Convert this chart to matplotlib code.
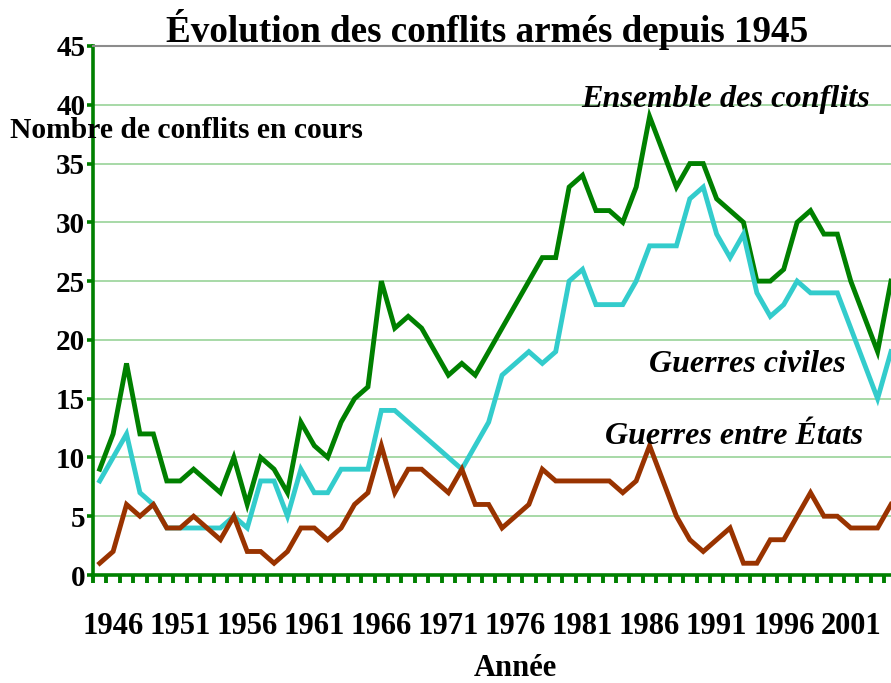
import matplotlib
matplotlib.use("Agg")
import matplotlib.pyplot as plt
from matplotlib.ticker import FixedLocator

years = list(range(1945, 2005))
ensemble = [9, 12, 18, 12, 12, 8, 8, 9, 8, 7, 10, 6, 10, 9, 7, 13, 11, 10, 13, 15,
            16, 25, 21, 22, 21, 19, 17, 18, 17, 19, 21, 23, 25, 27, 27, 33, 34, 31, 31, 30,
            33, 39, 36, 33, 35, 35, 32, 31, 30, 25, 25, 26, 30, 31, 29, 29, 25, 22, 19, 25]
civiles = [8, 10, 12, 7, 6, 4, 4, 4, 4, 4, 5, 4, 8, 8, 5, 9, 7, 7, 9, 9,
           9, 14, 14, 13, 12, 11, 10, 9, 11, 13, 17, 18, 19, 18, 19, 25, 26, 23, 23, 23,
           25, 28, 28, 28, 32, 33, 29, 27, 29, 24, 22, 23, 25, 24, 24, 24, 21, 18, 15, 19]
etats = [1, 2, 6, 5, 6, 4, 4, 5, 4, 3, 5, 2, 2, 1, 2, 4, 4, 3, 4, 6,
         7, 11, 7, 9, 9, 8, 7, 9, 6, 6, 4, 5, 6, 9, 8, 8, 8, 8, 8, 7,
         8, 11, 8, 5, 3, 2, 3, 4, 1, 1, 3, 3, 5, 7, 5, 5, 4, 4, 4, 6]
xtick_labels = [1946, 1951, 1956, 1961, 1966, 1971, 1976, 1981, 1986, 1991, 1996, 2001]
ytick_values = [0, 5, 10, 15, 20, 25, 30, 35, 40, 45]

W, H = 891, 683
fig = plt.figure(figsize=(W / 100, H / 100), dpi=100)
serif = "Liberation Serif"

ax = fig.add_axes([93 / W, 1 - 575 / H, (891 - 93) / W, (575 - 46) / H])
ax.set_xlim(1944.5, 2004.0)
ax.set_ylim(0, 45)

for v in ytick_values[1:-1]:
    ax.axhline(v, color="#8fcf8f", lw=1.1, zorder=1)

ax.plot(years, ensemble, color="#008000", lw=3.5, zorder=3, solid_joinstyle="miter")
ax.plot(years, civiles, color="#33cccc", lw=3.5, zorder=3, solid_joinstyle="miter")
ax.plot(years, etats, color="#993300", lw=3.5, zorder=4, solid_joinstyle="miter")

for s in ["left", "bottom"]:
    ax.spines[s].set_color("#008000")
    ax.spines[s].set_linewidth(2.6)
ax.spines["top"].set_color("#8c8c8c")
ax.spines["top"].set_linewidth(1.5)
ax.spines["right"].set_visible(False)

ax.set_yticks(ytick_values)
ax.set_yticklabels([str(v) for v in ytick_values], fontfamily=serif,
                   fontweight="bold", fontsize=21)
ax.tick_params(axis="y", direction="out", length=4.5, width=2.6, color="#008000", pad=1)

ax.set_xticks(xtick_labels)
ax.set_xticklabels([str(v) for v in xtick_labels], fontfamily=serif,
                   fontweight="bold", fontsize=22)
ax.tick_params(axis="x", which="major", length=0, pad=27)
ax.xaxis.set_minor_locator(FixedLocator([y + 0.5 for y in range(1944, 2004)]))
ax.tick_params(axis="x", which="minor", direction="out", length=5.5, width=2.8,
               color="#008000")

fig.text(515 / W, 1 - 669 / H, "Année", ha="center", va="center",
         fontfamily=serif, fontweight="bold", fontsize=22)
fig.text(487 / W, 1 - 30 / H, "Évolution des conflits armés depuis 1945",
         ha="center", va="center", fontfamily=serif, fontweight="bold", fontsize=26.7)
fig.text(10 / W, 1 - 130 / H, "Nombre de conflits en cours", ha="left", va="center",
         fontfamily=serif, fontweight="bold", fontsize=21.3)

fig.text(870 / W, 1 - 100 / H, "Ensemble des conflits", ha="right", va="center",
         fontfamily=serif, fontweight="bold", style="italic", fontsize=23.2)
fig.text(846 / W, 1 - 364 / H, "Guerres civiles", ha="right", va="center",
         fontfamily=serif, fontweight="bold", style="italic", fontsize=23)
fig.text(863 / W, 1 - 437 / H, "Guerres entre États", ha="right", va="center",
         fontfamily=serif, fontweight="bold", style="italic", fontsize=23)

fig.savefig("out.png", dpi=100)
